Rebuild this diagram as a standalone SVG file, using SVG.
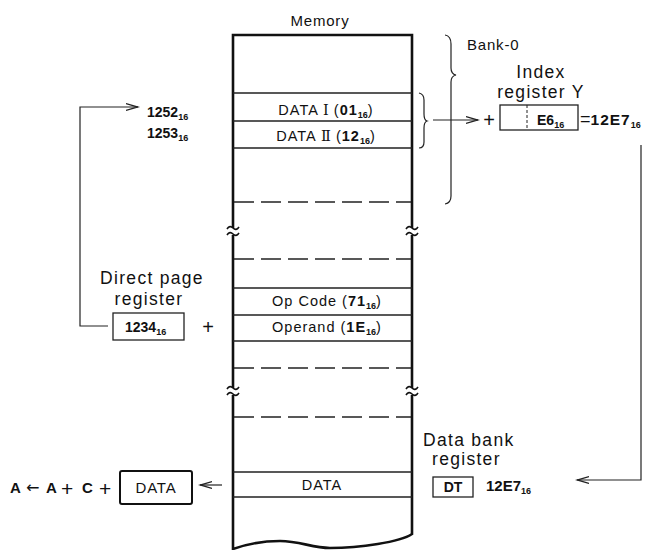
<svg xmlns="http://www.w3.org/2000/svg" width="649" height="550" viewBox="0 0 649 550">
<defs>
<style>
text{font-family:"Liberation Sans",Arial,"DejaVu Sans",sans-serif;fill:#111}
.r14{font-size:14.5px;letter-spacing:1px}
.b14{font-size:14px;font-weight:bold}
.big{font-size:17.5px;letter-spacing:1.3px}
.mid{font-size:15px;letter-spacing:0.8px}
.sub{font-size:9px;font-weight:bold;letter-spacing:0}
.rom{font-family:"DejaVu Serif","Liberation Serif",serif;letter-spacing:0}
.wall{stroke:#111;stroke-width:2.6;fill:none}
.row{stroke:#222;stroke-width:1.4;fill:none}
.dash{stroke:#222;stroke-width:1.4;fill:none;stroke-dasharray:20 7}
.conn{stroke:#222;stroke-width:1.2;fill:none}
.box{stroke:#222;stroke-width:1.3;fill:#fff}
.brk{stroke:#111;stroke-width:1.6;fill:none}
</style>
<marker id="ah" markerUnits="userSpaceOnUse" markerWidth="14" markerHeight="10" refX="12" refY="4" orient="auto">
<path d="M0,0.6 L12,4 L0,7.4" fill="none" stroke="#222" stroke-width="1.3"/>
</marker>
</defs>
<rect width="649" height="550" fill="#fff"/>

<g id="memory">
<text x="320" y="26" class="mid" text-anchor="middle">Memory</text>
<path class="wall" d="M233,228 V35 H412 V228 M412,235 V388 M412,395 V534 C400,542 360,548 330,548 C312,548 300,541 280,541 C265,541 250,543 233,549 V395 M233,388 V235"/>
<path class="brk" d="M227,229 c2,-3 4,-3 6,-1 s4,2 6,-1 M227,235 c2,-3 4,-3 6,-1 s4,2 6,-1 M406,229 c2,-3 4,-3 6,-1 s4,2 6,-1 M406,235 c2,-3 4,-3 6,-1 s4,2 6,-1"/>
<path class="brk" d="M227,389 c2,-3 4,-3 6,-1 s4,2 6,-1 M227,395 c2,-3 4,-3 6,-1 s4,2 6,-1 M406,389 c2,-3 4,-3 6,-1 s4,2 6,-1 M406,395 c2,-3 4,-3 6,-1 s4,2 6,-1"/>
<path class="row" d="M233,93 H412 M233,121 H412 M233,148 H412 M233,288 H412 M233,315 H412 M233,341 H412 M233,472 H412 M233,497 H412"/>
<path class="dash" d="M234,202 H411 M234,259 H411 M234,368 H411 M234,417 H411"/>
</g>

<g id="data1">
<text x="326" y="115" class="r14" text-anchor="middle">DATA <tspan class="rom">Ⅰ</tspan> (<tspan font-weight="bold">01</tspan><tspan class="sub" dy="3">16</tspan><tspan dy="-3">)</tspan></text>
</g>
<g id="data2">
<text x="326" y="141" class="r14" text-anchor="middle">DATA <tspan class="rom">Ⅱ</tspan> (<tspan font-weight="bold">12</tspan><tspan class="sub" dy="3">16</tspan><tspan dy="-3">)</tspan></text>
</g>
<g id="opcode">
<text x="327" y="306" class="r14" text-anchor="middle">Op Code (<tspan font-weight="bold">71</tspan><tspan class="sub" dy="3">16</tspan><tspan dy="-3">)</tspan></text>
</g>
<g id="operand">
<text x="327" y="332" class="r14" text-anchor="middle">Operand (<tspan font-weight="bold">1E</tspan><tspan class="sub" dy="3">16</tspan><tspan dy="-3">)</tspan></text>
</g>
<g id="data-row">
<text x="322" y="490" class="r14" text-anchor="middle">DATA</text>
</g>

<g id="addresses">
<text x="147" y="117" class="b14">1252<tspan class="sub" dy="3">16</tspan></text>
<text x="147" y="138" class="b14">1253<tspan class="sub" dy="3">16</tspan></text>
</g>

<g id="bank0">
<path class="conn" d="M445,35 Q451,36 451,44 V68 Q451,74 456,75 Q451,76 451,82 V196 Q451,203 445,204"/>
<text x="467" y="50" class="mid">Bank-0</text>
</g>

<g id="data-brace">
<path class="conn" d="M419,93 Q424,94 424,100 V114 Q424,120 427,121 Q424,122 424,128 V142 Q424,148 419,148"/>
</g>

<g id="index-register">
<text x="541" y="78" class="big" text-anchor="middle">Index</text>
<text x="541" y="98" class="big" text-anchor="middle">register Y</text>
<text x="489" y="127" font-size="20" text-anchor="middle">+</text>
<rect class="box" x="500" y="105" width="78" height="25"/>
<line x1="527" y1="105" x2="527" y2="130" stroke="#222" stroke-width="1" stroke-dasharray="3 2"/>
<text x="537" y="125" class="b14">E6<tspan class="sub" dy="3">16</tspan></text>
<text x="580" y="125" font-size="18">=<tspan font-size="15.5" font-weight="bold" letter-spacing="1">12E7</tspan><tspan class="sub" dy="3">16</tspan></text>
</g>

<g id="direct-page-register">
<text x="152" y="284" class="big" text-anchor="middle">Direct page</text>
<text x="149" y="305" class="big" text-anchor="middle">register</text>
<rect class="box" x="113" y="313" width="71" height="27"/>
<text x="125" y="332" class="b14">1234<tspan class="sub" dy="3">16</tspan></text>
<text x="208" y="334" font-size="20" text-anchor="middle">+</text>
</g>

<g id="data-bank-register">
<text x="423" y="446" class="big">Data bank</text>
<text x="432" y="465" class="big">register</text>
<rect class="box" x="433" y="477" width="40" height="20"/>
<text x="453" y="492" class="b14" text-anchor="middle">DT</text>
<text x="486" y="491" font-size="15" font-weight="bold">12E7<tspan class="sub" dy="3">16</tspan></text>
</g>

<g id="result">
<text y="493" font-size="15" font-weight="bold"><tspan x="10">A</tspan><tspan x="26" font-size="16" font-weight="normal" font-family="DejaVu Sans, sans-serif">←</tspan><tspan x="46">A</tspan><tspan x="61" y="496" font-size="21" font-weight="normal">+</tspan><tspan x="82" y="493">C</tspan><tspan x="99" y="496" font-size="21" font-weight="normal">+</tspan></text>
<rect x="120" y="471" width="72" height="33" rx="2" fill="#fff" stroke="#111" stroke-width="2"/>
<text x="156" y="493" class="mid" text-anchor="middle">DATA</text>
</g>

<g id="connectors">
<path class="conn" d="M108,326 H80 V107 H138" marker-end="url(#ah)"/>
<path class="conn" d="M433,120 H478" marker-end="url(#ah)"/>
<path class="conn" d="M641,145 V480 H577" marker-end="url(#ah)"/>
<path class="conn" d="M222,485 H200" marker-end="url(#ah)"/>
</g>
</svg>
